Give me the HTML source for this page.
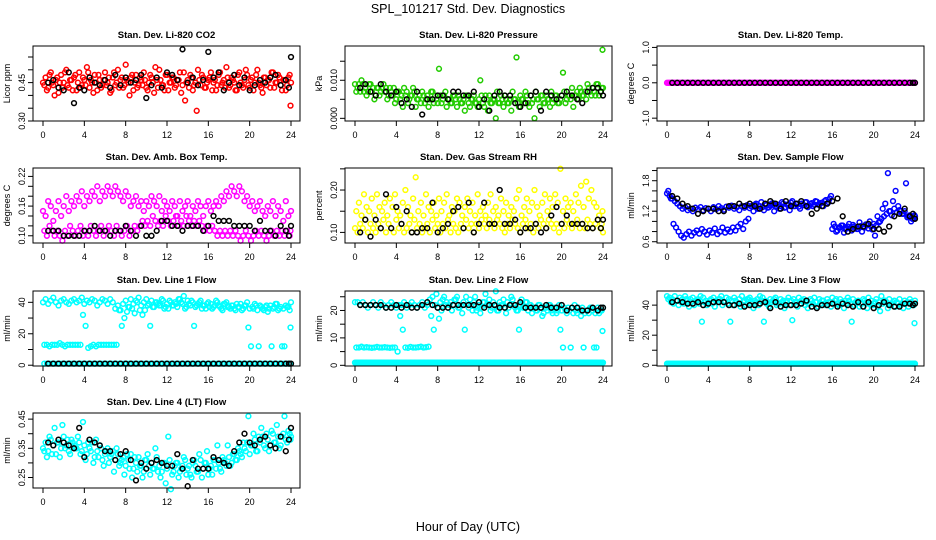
<!DOCTYPE html>
<html><head><meta charset="utf-8"><style>
html,body{margin:0;padding:0;background:#fff;}
svg{display:block;font-family:"Liberation Sans",sans-serif;}
</style></head><body>
<svg id="fig" width="936" height="540" viewBox="0 0 936 540" xmlns="http://www.w3.org/2000/svg">
<rect width="936" height="540" fill="#fff"/>
<text x="468" y="13" text-anchor="middle" font-size="12.5">SPL_101217  Std. Dev. Diagnostics</text>
<text x="468" y="531" text-anchor="middle" font-size="12.5">Hour of Day (UTC)</text>
</svg>
<script>
const hoursQ=[0,0.25,0.5,0.75,1,1.25,1.5,1.75,2,2.25,2.5,2.75,3,3.25,3.5,3.75,4,4.25,4.5,4.75,5,5.25,5.5,5.75,6,6.25,6.5,6.75,7,7.25,7.5,7.75,8,8.25,8.5,8.75,9,9.25,9.5,9.75,10,10.25,10.5,10.75,11,11.25,11.5,11.75,12,12.25,12.5,12.75,13,13.25,13.5,13.75,14,14.25,14.5,14.75,15,15.25,15.5,15.75,16,16.25,16.5,16.75,17,17.25,17.5,17.75,18,18.25,18.5,18.75,19,19.25,19.5,19.75,20,20.25,20.5,20.75,21,21.25,21.5,21.75,22,22.25,22.5,22.75,23,23.25,23.5,23.75,24];
const hoursQB=[0.125,0.375,0.625,0.875,1.125,1.375,1.625,1.875,2.125,2.375,2.625,2.875,3.125,3.375,3.625,3.875,4.125,4.375,4.625,4.875,5.125,5.375,5.625,5.875,6.125,6.375,6.625,6.875,7.125,7.375,7.625,7.875,8.125,8.375,8.625,8.875,9.125,9.375,9.625,9.875,10.125,10.375,10.625,10.875,11.125,11.375,11.625,11.875,12.125,12.375,12.625,12.875,13.125,13.375,13.625,13.875,14.125,14.375,14.625,14.875,15.125,15.375,15.625,15.875,16.125,16.375,16.625,16.875,17.125,17.375,17.625,17.875,18.125,18.375,18.625,18.875,19.125,19.375,19.625,19.875,20.125,20.375,20.625,20.875,21.125,21.375,21.625,21.875,22.125,22.375,22.625,22.875,23.125,23.375,23.625,23.875,23.95];
const hoursH=[0.5,1,1.5,2,2.5,3,3.5,4,4.5,5,5.5,6,6.5,7,7.5,8,8.5,9,9.5,10,10.5,11,11.5,12,12.5,13,13.5,14,14.5,15,15.5,16,16.5,17,17.5,18,18.5,19,19.5,20,20.5,21,21.5,22,22.5,23,23.5,23.8,24];
const xTicks=[0,4,8,12,16,20,24];

const co2A=[0.45,0.47,0.43,0.49,0.44,0.46,0.41,0.48,0.45,0.50,0.43,0.46,0.47,0.42,0.49,0.44,0.46,0.51,0.43,0.45,0.48,0.42,0.46,0.44,0.49,0.45,0.41,0.47,0.44,0.50,0.46,0.43,0.52,0.45,0.47,0.42,0.48,0.44,0.46,0.49,0.43,0.45,0.47,0.41,0.46,0.50,0.44,0.42,0.48,0.45,0.47,0.43,0.46,0.49,0.44,0.38,0.46,0.48,0.42,0.45,0.50,0.44,0.47,0.43,0.46,0.49,0.45,0.42,0.48,0.44,0.46,0.51,0.43,0.47,0.45,0.42,0.49,0.44,0.46,0.48,0.43,0.47,0.45,0.50,0.44,0.41,0.47,0.46,0.43,0.49,0.45,0.48,0.44,0.46,0.42,0.47,0.45];
const co2B=[0.44,0.42,0.48,0.45,0.40,0.47,0.45,0.43,0.49,0.44,0.46,0.42,0.48,0.45,0.43,0.47,0.44,0.49,0.46,0.41,0.45,0.48,0.43,0.46,0.44,0.47,0.42,0.49,0.45,0.43,0.47,0.44,0.46,0.40,0.48,0.45,0.43,0.47,0.44,0.46,0.42,0.48,0.45,0.51,0.43,0.46,0.44,0.48,0.42,0.45,0.47,0.44,0.46,0.41,0.49,0.45,0.43,0.47,0.44,0.34,0.46,0.48,0.43,0.45,0.47,0.42,0.46,0.44,0.49,0.45,0.43,0.47,0.44,0.46,0.42,0.48,0.45,0.43,0.50,0.44,0.46,0.42,0.48,0.45,0.43,0.47,0.44,0.46,0.49,0.43,0.45,0.47,0.42,0.46,0.44,0.48,0.36];
const co2K=[0.45,0.46,0.43,0.42,0.49,0.37,0.43,0.42,0.47,0.45,0.44,0.46,0.43,0.48,0.44,0.47,0.45,0.46,0.48,0.39,0.44,0.47,0.43,0.49,0.48,0.46,0.58,0.45,0.47,0.44,0.46,0.57,0.47,0.49,0.42,0.45,0.48,0.44,0.47,0.42,0.44,0.46,0.45,0.47,0.48,0.44,0.46,0.43,0.55];

const presA=[0.009,0.008,0.007,0.009,0.008,0.007,0.009,0.008,0.006,0.008,0.007,0.009,0.008,0.006,0.007,0.008,0.005,0.007,0.006,0.008,0.007,0.005,0.006,0.007,0.005,0.006,0.007,0.004,0.006,0.005,0.007,0.006,0.004,0.006,0.005,0.007,0.005,0.004,0.006,0.005,0.006,0.004,0.005,0.006,0.004,0.005,0.006,0.004,0.005,0.006,0.003,0.005,0.006,0.004,0.005,0.007,0.004,0.005,0.006,0.004,0.005,0.007,0.005,0.004,0.006,0.005,0.007,0.004,0.006,0.005,0.007,0.005,0.006,0.004,0.006,0.005,0.007,0.005,0.006,0.004,0.006,0.007,0.005,0.006,0.008,0.006,0.007,0.008,0.006,0.007,0.009,0.007,0.008,0.006,0.009,0.007,0.008];
const presB=[0.007,0.009,0.010,0.007,0.006,0.009,0.007,0.005,0.008,0.006,0.008,0.007,0.005,0.008,0.006,0.004,0.007,0.005,0.003,0.006,0.004,0.006,0.008,0.003,0.005,0.004,0.006,0.005,0.003,0.007,0.004,0.005,0.013,0.004,0.006,0.003,0.005,0.004,0.006,0.003,0.005,0.004,0.002,0.006,0.003,0.005,0.004,0.003,0.010,0.004,0.006,0.002,0.004,0.005,0.000,0.004,0.006,0.003,0.005,0.004,0.002,0.005,0.016,0.003,0.005,0.004,0.006,0.003,0.004,0.000,0.005,0.003,0.006,0.004,0.005,0.003,0.004,0.006,0.004,0.005,0.012,0.004,0.006,0.005,0.003,0.006,0.005,0.007,0.006,0.005,0.008,0.006,0.007,0.009,0.006,0.008,0.018];
const presK=[0.008,0.009,0.007,0.006,0.009,0.007,0.006,0.007,0.004,0.005,0.003,0.007,0.001,0.005,0.005,0.006,0.006,0.005,0.007,0.007,0.006,0.006,0.007,0.003,0.005,0.002,0.006,0.007,0.006,0.006,0.004,0.003,0.004,0.006,0.007,0.002,0.007,0.006,0.005,0.006,0.007,0.006,0.005,0.004,0.007,0.008,0.008,0.007,0.006];

const tempA=[0,0,0,0,0,0,0,0,0,0,0,0,0,0,0,0,0,0,0,0,0,0,0,0,0,0,0,0,0,0,0,0,0,0,0,0,0,0,0,0,0,0,0,0,0,0,0,0,0,0,0,0,0,0,0,0,0,0,0,0,0,0,0,0,0,0,0,0,0,0,0,0,0,0,0,0,0,0,0,0,0,0,0,0,0,0,0,0,0,0,0,0,0,0,0,0,0];
const tempK=[0,0,0,0,0,0,0,0,0,0,0,0,0,0,0,0,0,0,0,0,0,0,0,0,0,0,0,0,0,0,0,0,0,0,0,0,0,0,0,0,0,0,0,0,0,0,0,0,0];

const boxA=[0.15,0.14,0.17,0.16,0.13,0.15,0.17,0.14,0.16,0.18,0.15,0.17,0.16,0.18,0.17,0.19,0.16,0.18,0.17,0.19,0.18,0.20,0.17,0.19,0.18,0.20,0.19,0.18,0.20,0.19,0.18,0.17,0.19,0.18,0.16,0.17,0.18,0.16,0.17,0.15,0.17,0.16,0.18,0.17,0.16,0.18,0.15,0.17,0.16,0.15,0.17,0.16,0.14,0.17,0.15,0.16,0.17,0.14,0.16,0.15,0.17,0.16,0.14,0.16,0.17,0.15,0.16,0.17,0.16,0.18,0.17,0.19,0.18,0.20,0.19,0.18,0.20,0.19,0.17,0.18,0.16,0.17,0.15,0.16,0.17,0.15,0.14,0.16,0.15,0.17,0.14,0.16,0.15,0.13,0.17,0.14,0.15];
const boxB=[0.11,0.10,0.12,0.11,0.10,0.11,0.10,0.09,0.11,0.10,0.12,0.11,0.10,0.11,0.12,0.10,0.11,0.10,0.12,0.11,0.10,0.11,0.12,0.10,0.11,0.12,0.11,0.10,0.12,0.11,0.10,0.11,0.12,0.10,0.11,0.12,0.11,0.12,0.13,0.12,0.13,0.12,0.14,0.13,0.12,0.13,0.12,0.14,0.13,0.12,0.13,0.14,0.12,0.13,0.12,0.14,0.13,0.12,0.13,0.12,0.13,0.12,0.11,0.12,0.11,0.12,0.11,0.10,0.11,0.10,0.11,0.10,0.11,0.10,0.11,0.10,0.09,0.10,0.11,0.10,0.09,0.10,0.11,0.10,0.11,0.10,0.09,0.10,0.11,0.10,0.11,0.10,0.11,0.10,0.11,0.10,0.11];
const boxK=[0.11,0.11,0.11,0.10,0.10,0.10,0.10,0.11,0.11,0.12,0.11,0.11,0.10,0.11,0.11,0.12,0.11,0.10,0.12,0.10,0.10,0.11,0.13,0.13,0.12,0.12,0.11,0.12,0.12,0.12,0.11,0.12,0.14,0.13,0.13,0.13,0.12,0.12,0.12,0.12,0.11,0.13,0.11,0.11,0.10,0.12,0.11,0.10,0.12];

const rhA=[0.11,0.10,0.12,0.11,0.13,0.10,0.12,0.11,0.10,0.12,0.11,0.13,0.10,0.12,0.11,0.10,0.13,0.11,0.12,0.10,0.11,0.12,0.10,0.13,0.11,0.12,0.10,0.11,0.12,0.10,0.13,0.11,0.12,0.10,0.12,0.11,0.13,0.10,0.12,0.11,0.10,0.12,0.11,0.13,0.11,0.12,0.10,0.12,0.11,0.13,0.12,0.11,0.13,0.12,0.11,0.13,0.12,0.11,0.10,0.12,0.11,0.13,0.12,0.11,0.10,0.12,0.13,0.11,0.12,0.10,0.12,0.11,0.13,0.12,0.11,0.13,0.12,0.11,0.12,0.10,0.12,0.11,0.13,0.12,0.11,0.12,0.13,0.11,0.12,0.11,0.13,0.12,0.11,0.12,0.13,0.11,0.10];
const rhB=[0.15,0.17,0.14,0.19,0.16,0.15,0.18,0.14,0.19,0.16,0.15,0.17,0.14,0.18,0.16,0.19,0.15,0.14,0.17,0.20,0.16,0.14,0.18,0.23,0.15,0.17,0.14,0.19,0.16,0.15,0.17,0.14,0.18,0.15,0.17,0.19,0.14,0.16,0.15,0.18,0.17,0.14,0.16,0.18,0.15,0.17,0.14,0.19,0.15,0.16,0.14,0.17,0.19,0.15,0.16,0.14,0.18,0.15,0.17,0.14,0.16,0.15,0.18,0.20,0.14,0.16,0.18,0.15,0.17,0.20,0.16,0.14,0.17,0.19,0.15,0.18,0.16,0.19,0.17,0.25,0.15,0.18,0.16,0.17,0.15,0.19,0.17,0.21,0.16,0.22,0.18,0.20,0.17,0.16,0.14,0.12,0.15];
const rhK=[0.10,0.13,0.09,0.13,0.11,0.19,0.11,0.16,0.12,0.15,0.10,0.10,0.11,0.11,0.17,0.10,0.11,0.12,0.15,0.16,0.11,0.17,0.10,0.12,0.17,0.12,0.12,0.20,0.12,0.12,0.13,0.10,0.11,0.11,0.12,0.10,0.11,0.14,0.16,0.12,0.14,0.12,0.12,0.12,0.11,0.11,0.13,0.11,0.13];

const flowA=[1.55,1.50,1.45,1.40,1.35,1.30,1.25,1.28,1.22,1.25,1.20,1.27,1.24,1.28,1.22,1.26,1.25,1.20,1.28,1.24,1.30,1.26,1.23,1.29,1.27,1.31,1.25,1.28,1.22,1.30,1.27,1.32,1.26,1.29,1.33,1.25,1.30,1.28,1.34,1.27,1.31,1.36,1.29,1.33,1.30,1.35,1.28,1.32,1.37,1.30,1.34,1.29,1.35,1.32,1.38,1.31,1.36,1.33,1.39,1.34,1.37,1.40,1.35,1.45,0.85,0.90,0.82,0.88,0.92,0.85,0.90,0.87,0.93,0.88,0.85,0.91,0.89,0.94,0.86,0.90,0.95,0.92,0.98,1.05,1.10,1.15,1.20,1.12,1.25,1.18,1.22,1.15,1.20,1.08,1.12,1.05,1.10];
const flowB=[1.60,1.45,0.95,0.88,0.80,0.72,0.68,0.75,0.80,0.72,0.78,0.82,0.76,0.85,0.80,0.74,0.82,0.78,0.86,0.75,0.80,0.88,0.78,0.84,0.80,0.88,0.82,0.90,0.95,0.85,1.00,1.05,1.30,1.20,1.35,1.25,1.38,1.22,1.32,1.28,1.35,1.20,1.30,1.25,1.38,1.27,1.33,1.22,1.40,1.30,1.35,1.25,1.32,1.38,1.28,1.34,1.30,1.40,1.33,1.36,1.30,1.42,1.38,1.50,0.95,0.80,0.88,0.92,0.78,0.86,0.95,0.82,0.90,0.85,0.98,0.80,0.88,0.93,1.00,0.84,0.72,1.10,1.00,1.25,1.35,1.95,1.20,1.40,1.60,1.30,1.20,1.15,1.75,1.10,1.00,1.05,1.12];
const flowK=[1.5,1.45,1.35,1.3,1.25,1.15,1.2,1.25,1.25,1.2,1.2,1.3,1.3,1.35,1.3,1.35,1.3,1.25,1.35,1.4,1.35,1.25,1.4,1.3,1.35,1.4,1.3,1.15,1.25,1.3,1.35,1.4,1.45,1.1,0.8,0.85,0.9,0.9,0.95,0.85,0.85,0.8,0.9,1.1,1.15,1.25,1.1,1.15,1.05];

const l1A=[40,42,39,41,43,40,38,41,42,40,39,41,42,40,41,43,39,41,40,42,41,38,40,42,41,39,42,40,36,38,35,39,41,37,42,39,41,43,38,40,42,39,41,37,40,38,42,36,39,41,38,40,37,42,39,36,41,38,40,37,39,41,38,36,40,39,37,41,38,36,39,40,37,38,36,39,37,35,38,40,36,37,39,35,38,36,37,34,38,36,39,35,37,36,38,37,40];
const l1B=[13,13,12,13,13,13,14,13,12,13,13,13,13,13,13,32,25,11,12,13,12,13,13,13,13,13,13,13,13,35,25,30,34,37,36,33,40,35,32,35,38,25,37,40,39,38,41,37,36,40,38,39,42,40,44,37,39,41,25,38,40,36,38,39,37,36,38,40,37,35,39,37,36,38,35,37,39,36,38,24,12,36,38,12,37,35,38,36,12,37,39,36,12,12,37,35,24];
const l1Base=[1,1,1,1,1,1,1,1,1,1,1,1,1,1,1,1,1,1,1,1,1,1,1,1,1,1,1,1,1,1,1,1,1,1,1,1,1,1,1,1,1,1,1,1,1,1,1,1,1,1,1,1,1,1,1,1,1,1,1,1,1,1,1,1,1,1,1,1,1,1,1,1,1,1,1,1,1,1,1,1,1,1,1,1,1,1,1,1,1,1,1,1,1,1,1,1,1];
const l1K=[1,1,1,1,1,1,1,1,1,1,1,1,1,1,1,1,1,1,1,1,1,1,1,1,1,1,1,1,1,1,1,1,1,1,1,1,1,1,1,1,1,1,1,1,1,1,1,1,1];

const l2A=[23,23,22,23,22,21,22,23,22,21,23,22,21,22,23,22,21,22,22,23,21,22,23,22,21,22,23,21,22,24,25,22,21,23,24,22,21,23,22,24,21,22,23,25,21,22,23,20,22,21,23,22,24,21,22,20,23,22,21,23,22,24,21,20,22,21,23,20,22,21,20,22,21,19,21,22,20,21,19,22,20,21,19,20,21,22,19,20,21,19,20,21,20,19,21,20,21];
const l2B=[6.5,6.5,6.8,6.5,6.6,6.5,6.4,6.5,6.7,6.5,6.5,6.6,6.5,6.4,6.5,6.5,5,18,13,6.5,6.4,6.7,6.5,6.5,6.6,6.8,6.5,6.6,6.8,18,13,26,17,20,25,23,22,20,24,25,21,19,13,22,24,20,25,21,19,23,26,22,20,23,27,20,22,24,19,21,25,22,20,13,24,21,23,22,19,21,20,22,18,21,20,22,19,21,20,13,6.5,20,21,6.5,19,20,21,18,6.5,20,19,21,6.5,6.5,19,20,12.5];
const l2Base=[1,1,1,1,1,1,1,1,1,1,1,1,1,1,1,1,1,1,1,1,1,1,1,1,1,1,1,1,1,1,1,1,1,1,1,1,1,1,1,1,1,1,1,1,1,1,1,1,1,1,1,1,1,1,1,1,1,1,1,1,1,1,1,1,1,1,1,1,1,1,1,1,1,1,1,1,1,1,1,1,1,1,1,1,1,1,1,1,1,1,1,1,1,1,1,1,1];
const l2K=[22,22,22,22,22,21,21,22,21,22,21,21,22,23,22,21,21,21,22,22,22,22,22,23,21,22,22,21,21,22,22,23,21,21,21,21,22,21,21,22,20,21,21,20,20,21,20,21,21];

const l3A=[46,45,44,46,43,45,44,46,43,44,45,43,44,46,45,43,42,44,45,43,44,46,42,45,44,43,45,42,44,46,43,44,45,42,43,44,46,45,43,42,44,43,45,41,44,43,42,45,43,44,42,45,43,44,42,41,43,45,42,44,43,41,44,42,45,43,41,44,42,43,45,41,44,42,43,41,44,42,45,43,41,44,42,46,43,42,44,41,43,42,44,41,43,42,44,41,43];
const l3B=[44,42,41,43,40,42,41,44,39,42,40,43,41,29,42,40,43,41,39,42,44,40,42,41,29,40,43,41,39,42,40,44,41,38,42,40,43,29,41,39,42,44,40,41,42,38,43,40,30,42,39,41,43,40,38,44,41,42,39,41,43,40,42,39,41,44,40,42,38,41,43,29,40,42,39,41,43,38,41,40,42,39,36,41,43,38,40,42,39,41,40,38,41,39,42,40,28];
const l3Base=[1,1,1,1,1,1,1,1,1,1,1,1,1,1,1,1,1,1,1,1,1,1,1,1,1,1,1,1,1,1,1,1,1,1,1,1,1,1,1,1,1,1,1,1,1,1,1,1,1,1,1,1,1,1,1,1,1,1,1,1,1,1,1,1,1,1,1,1,1,1,1,1,1,1,1,1,1,1,1,1,1,1,1,1,1,1,1,1,1,1,1,1,1,1,1,1,1];
const l3K=[42,43,42,41,41,42,40,41,42,42,42,40,40,41,39,40,40,41,42,38,42,39,40,40,40,41,43,39,38,40,40,41,39,41,40,39,42,39,42,38,40,42,40,39,39,41,41,40,41];

const l4A=[0.35,0.37,0.34,0.38,0.36,0.33,0.37,0.35,0.39,0.36,0.34,0.38,0.36,0.35,0.37,0.34,0.36,0.33,0.35,0.37,0.32,0.34,0.36,0.31,0.33,0.35,0.32,0.34,0.31,0.33,0.30,0.32,0.29,0.31,0.33,0.28,0.30,0.32,0.29,0.27,0.31,0.29,0.30,0.28,0.32,0.29,0.27,0.30,0.28,0.31,0.26,0.29,0.30,0.27,0.29,0.31,0.28,0.26,0.30,0.29,0.27,0.31,0.28,0.30,0.26,0.29,0.31,0.28,0.30,0.27,0.31,0.29,0.32,0.30,0.33,0.31,0.34,0.32,0.35,0.37,0.33,0.36,0.38,0.34,0.37,0.39,0.35,0.38,0.36,0.40,0.37,0.39,0.36,0.40,0.38,0.41,0.39];
const l4B=[0.34,0.32,0.39,0.33,0.42,0.37,0.32,0.43,0.35,0.38,0.33,0.37,0.35,0.39,0.33,0.44,0.31,0.37,0.34,0.30,0.38,0.32,0.35,0.29,0.34,0.30,0.33,0.27,0.35,0.29,0.31,0.26,0.33,0.28,0.25,0.32,0.27,0.29,0.25,0.31,0.33,0.26,0.28,0.35,0.27,0.25,0.30,0.23,0.39,0.21,0.27,0.30,0.25,0.28,0.32,0.26,0.29,0.25,0.31,0.27,0.33,0.25,0.30,0.34,0.28,0.26,0.31,0.36,0.28,0.32,0.30,0.36,0.29,0.33,0.31,0.35,0.33,0.37,0.34,0.46,0.36,0.40,0.34,0.39,0.42,0.36,0.40,0.34,0.41,0.37,0.43,0.35,0.39,0.46,0.37,0.40,0.38];
const l4K=[0.37,0.36,0.38,0.37,0.36,0.35,0.42,0.32,0.38,0.37,0.36,0.34,0.34,0.31,0.33,0.34,0.31,0.24,0.30,0.28,0.30,0.31,0.30,0.29,0.29,0.33,0.28,0.22,0.31,0.28,0.28,0.28,0.32,0.31,0.30,0.29,0.34,0.37,0.40,0.37,0.36,0.38,0.39,0.36,0.35,0.39,0.34,0.38,0.42];

const NS='http://www.w3.org/2000/svg';
const svg=document.getElementById('fig');
function mk(tag,attrs,parent){const e=document.createElementNS(NS,tag);for(const k in attrs)e.setAttribute(k,attrs[k]);(parent||svg).appendChild(e);return e;}

const colX=[0,312,624], rowY=[46,168,291,413], boxH=75;
const panels=[
 {id:'co2',title:'Stan. Dev. Li-820 CO2',ylab:'Licor ppm',col:'#ff0000',r:0,c:0,ymin:0.30,ymax:0.593,ticks:[0.30,0.35,0.40,0.45,0.50,0.55],labels:['0.30','','','0.45','',''],series:[[hoursQ,co2A],[hoursQB,co2B]],black:co2K},
 {id:'pressure',title:'Stan. Dev. Li-820 Pressure',ylab:'kPa',col:'#22cc00',r:0,c:1,ymin:-0.0007,ymax:0.019,ticks:[0,0.005,0.010,0.015],labels:['0.000','','0.010',''],series:[[hoursQ,presA],[hoursQB,presB]],black:presK},
 {id:'temp',title:'Stan. Dev. Li-820 Temp.',ylab:'degrees C',col:'#ff00ff',r:0,c:2,ymin:-1.08,ymax:1.04,ticks:[-1,-0.5,0,0.5,1],labels:['-1.0','','0.0','','1.0'],series:[[hoursQ,tempA],[hoursQB,tempA]],black:tempK},
 {id:'box-temp',title:'Stan. Dev. Amb. Box Temp.',ylab:'degrees C',col:'#ff00ff',r:1,c:0,ymin:0.0854,ymax:0.237,ticks:[0.10,0.12,0.14,0.16,0.18,0.20,0.22],labels:['0.10','','','0.16','','','0.22'],series:[[hoursQ,boxA],[hoursQB,boxB]],black:boxK},
 {id:'rh',title:'Stan. Dev. Gas Stream RH',ylab:'percent',col:'#ffff00',r:1,c:1,ymin:0.075,ymax:0.252,ticks:[0.10,0.15,0.20,0.25],labels:['0.10','','0.20',''],series:[[hoursQ,rhA],[hoursQB,rhB]],black:rhK},
 {id:'sample-flow',title:'Stan. Dev. Sample Flow',ylab:'ml/min',col:'#0000ff',r:1,c:2,ymin:0.575,ymax:2.05,ticks:[0.6,0.8,1.0,1.2,1.4,1.6,1.8,2.0],labels:['0.6','','','1.2','','','1.8',''],series:[[hoursQ,flowA],[hoursQB,flowB]],black:flowK},
 {id:'line1',title:'Stan. Dev. Line 1 Flow',ylab:'ml/min',col:'#00ffff',r:2,c:0,ymin:-0.5,ymax:47.2,ticks:[0,10,20,30,40],labels:['0','','20','','40'],series:[[hoursQ,l1A],[hoursQB,l1B],[hoursQB,l1Base]],black:l1K},
 {id:'line2',title:'Stan. Dev. Line 2 Flow',ylab:'ml/min',col:'#00ffff',r:2,c:1,ymin:-0.25,ymax:27.1,ticks:[0,5,10,15,20,25],labels:['0','','10','','20',''],series:[[hoursQ,l2A],[hoursQB,l2B],[hoursQ,l2Base],[hoursQB,l2Base]],black:l2K},
 {id:'line3',title:'Stan. Dev. Line 3 Flow',ylab:'ml/min',col:'#00ffff',r:2,c:2,ymin:-0.5,ymax:49.4,ticks:[0,10,20,30,40],labels:['0','','20','','40'],series:[[hoursQ,l3A],[hoursQB,l3B],[hoursQ,l3Base],[hoursQB,l3Base]],black:l3K},
 {id:'line4',title:'Stan. Dev. Line 4 (LT) Flow',ylab:'ml/min',col:'#00ffff',r:3,c:0,ymin:0.214,ymax:0.471,ticks:[0.25,0.30,0.35,0.40,0.45],labels:['0.25','','0.35','','0.45'],series:[[hoursQ,l4A],[hoursQB,l4B]],black:l4K},
];

panels.forEach(p=>{
  const cx=colX[p.c], top=rowY[p.r], bot=top+boxH, left=33+cx, right=300+cx;
  const xs=h=>43+cx+h*(248/24);
  const ys=v=>bot-(v-p.ymin)/(p.ymax-p.ymin)*boxH;
  const g=mk('g',{});
  
  
  const t=mk('text',{x:(left+right)/2,y:top-8,'text-anchor':'middle','font-size':'9.5','font-weight':'bold'},g);
  t.textContent=p.title;
  
  
  const yl=mk('text',{x:0,y:0,transform:`translate(${cx+10},${(top+bot)/2}) rotate(-90)`,'text-anchor':'middle','font-size':'9'},g);
  yl.textContent=p.ylab;
  
  
  p.series.forEach(s=>{
    const hs=s[0], vs=s[1];
    vs.forEach((v,i)=>{
      const c=mk('circle',{cx:xs(hs[i]).toFixed(1),cy:ys(v).toFixed(1),r:2.4,fill:'none',stroke:p.col,'stroke-width':1.5},g);
      
      
    });
  });
  p.black.forEach((v,i)=>{
    const c=mk('circle',{cx:xs(hoursH[i]).toFixed(1),cy:ys(v).toFixed(1),r:2.4,fill:'none',stroke:'#000','stroke-width':1.5},g);
    
    
  });
  const box=mk('rect',{x:left,y:top,width:right-left,height:boxH,fill:'none',stroke:'#000','stroke-width':1},g);
  
  
  xTicks.forEach(h=>{
    mk('line',{x1:xs(h),x2:xs(h),y1:bot,y2:bot+5,stroke:'#000','stroke-width':1},g);
    const tl=mk('text',{x:xs(h),y:bot+17,'text-anchor':'middle','font-size':'9'},g);
    tl.textContent=h;
    
    
  });
  p.ticks.forEach((v,i)=>{
    const y=ys(v);
    mk('line',{x1:left-5,x2:left,y1:y,y2:y,stroke:'#000','stroke-width':1},g);
    if(p.labels[i]){
      const tl=mk('text',{x:0,y:0,transform:`translate(${left-8},${y}) rotate(-90)`,'text-anchor':'middle','font-size':'9'},g);
      tl.textContent=p.labels[i];
      
      
    }
  });
});
</script>
</body></html>
